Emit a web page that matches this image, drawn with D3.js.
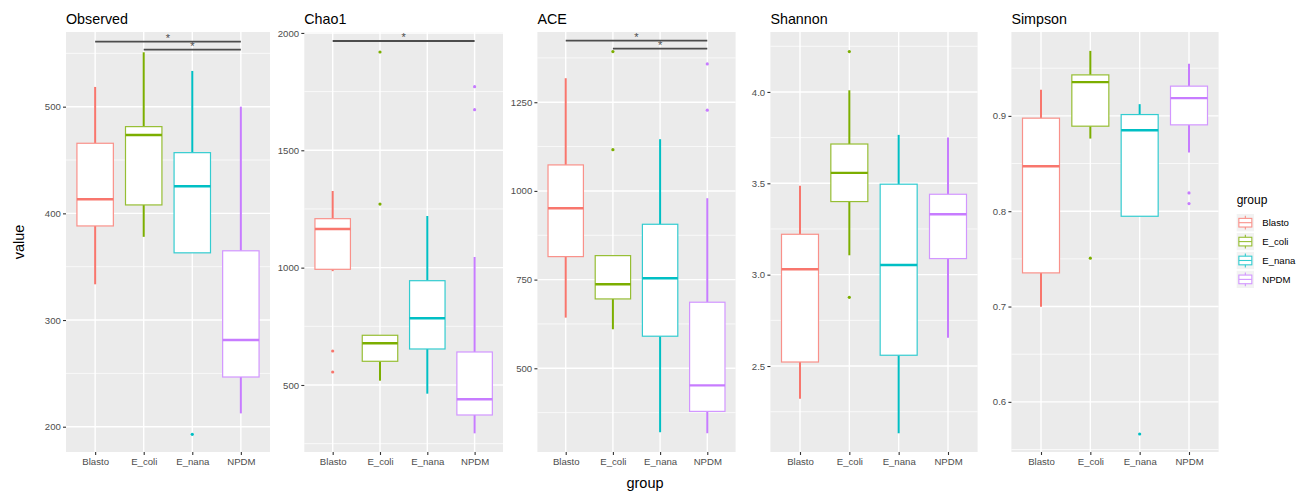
<!DOCTYPE html>
<html>
<head>
<meta charset="utf-8">
<script src="https://cdn.jsdelivr.net/npm/d3@7"></script>
<style>
  body { margin: 0; background: #fff; }
  svg { font-family: "Liberation Sans", Arial, Helvetica, sans-serif; }
</style>
</head>
<body>
<div id="chart"></div>
<script>
// groups + ggplot default hue colours
const groups = ["Blasto", "E_coli", "E_nana", "NPDM"];
const groupColors = ["#F8766D", "#7CAE00", "#00BFC4", "#C77CFF"];
const titles = ["Observed", "Chao1", "ACE", "Shannon", "Simpson"];

// box stats per group: [lower whisker, Q1, median, Q3, upper whisker]
const observedStats = [[333.5, 388.2, 413.2, 465.7, 518.5], [378, 407.9, 473.5, 481.3, 551], [363, 363, 425.4, 456.9, 533.5], [212.5, 246.6, 281.3, 364.9, 500]];
const observedOutliers = [[], [], [192.9], []];
const observedTicks = [200, 300, 400, 500];
const observedSig = [["Blasto", "NPDM", 561], ["E_coli", "NPDM", 553.5]];

const chao1Stats = [[985, 992.9, 1164.7, 1208.6, 1326.6], [518.3, 601, 677.7, 711.8, 711.8], [463, 653.4, 784.2, 944.4, 1220], [294, 372.2, 439, 640.6, 1045.4]];
const chao1Outliers = [[644.9, 555.4], [1918.8, 1271], [], [1771, 1673]];
const chao1Ticks = [500, 1000, 1500, 2000];
const chao1Sig = [["Blasto", "NPDM", 1965.7]];

const aceStats = [[642.8, 814.8, 951.2, 1073.3, 1317.7], [610, 695.5, 736.9, 817.6, 817.6], [319.7, 590.4, 753.9, 906, 1145.8], [316.9, 378.5, 451.7, 686.2, 979.4]];
const aceOutliers = [[], [1392.7, 1116.4], [], [1358, 1227.5]];
const aceTicks = [500, 750, 1000, 1250];
const aceSig = [["Blasto", "NPDM", 1423.7], ["E_coli", "NPDM", 1401.2]];

const shannonStats = [[2.321, 2.522, 3.030, 3.221, 3.486], [3.106, 3.400, 3.557, 3.715, 4.009], [2.132, 2.559, 3.053, 3.495, 3.765], [2.655, 3.088, 3.331, 3.440, 3.750]];
const shannonOutliers = [[], [4.221, 2.876], [], []];
const shannonTicks = [2.5, 3.0, 3.5, 4.0];
const shannonSig = [];

const simpsonStats = [[0.6999, 0.7353, 0.8472, 0.8976, 0.9273], [0.8762, 0.8892, 0.9354, 0.943, 0.9682], [0.7947, 0.7947, 0.885, 0.9014, 0.9123], [0.8615, 0.8906, 0.9186, 0.9312, 0.9546]];
const simpsonOutliers = [[], [0.7507], [0.5663], [0.8192, 0.808]];
const simpsonTicks = [0.6, 0.7, 0.8, 0.9];
const simpsonSig = [];

// y limits of each panel (ggplot expanded range)
const yDomains = [[176.3, 570], [214.5, 2004], [264, 1448], [2.0295, 4.328], [0.5474, 0.988]];

var panels = [
  { stats: observedStats, out: observedOutliers, ticks: observedTicks, sig: observedSig, fmt: d3.format("d") },
  { stats: chao1Stats, out: chao1Outliers, ticks: chao1Ticks, sig: chao1Sig, fmt: d3.format("d") },
  { stats: aceStats, out: aceOutliers, ticks: aceTicks, sig: aceSig, fmt: d3.format("d") },
  { stats: shannonStats, out: shannonOutliers, ticks: shannonTicks, sig: shannonSig, fmt: d3.format(".1f") },
  { stats: simpsonStats, out: simpsonOutliers, ticks: simpsonTicks, sig: simpsonSig, fmt: d3.format(".1f") }
];

// layout
var width = 1296, height = 494;
var plotTop = 32, plotBottom = 452;
var panelX = [[66, 270], [304.3, 503], [537.4, 735.6], [770.4, 977.6], [1011.4, 1218.6]];
var tickFont = "9.6px";

var svg = d3.select("#chart").append("svg").attr("width", width).attr("height", height);

function lighten(c) { return d3.interpolateRgb(c, "#fff")(0.2); }

panels.forEach(function (p, i) {
  var x = d3.scalePoint().domain(groups).range(panelX[i]).padding(0.6);
  var y = d3.scaleLinear().domain(yDomains[i]).range([plotBottom, plotTop]);
  var step = x.step(), bw = step * 0.75;
  var g = svg.append("g");

  // background + grid
  g.append("rect").attr("x", panelX[i][0]).attr("y", plotTop)
    .attr("width", panelX[i][1] - panelX[i][0]).attr("height", plotBottom - plotTop).attr("fill", "#EBEBEB");

  var t = p.ticks, d = t[1] - t[0];
  var minor = [t[0] - d / 2].concat(t.map(v => v + d / 2)).filter(v => v >= yDomains[i][0] && v <= yDomains[i][1]);
  g.selectAll(".minor").data(minor).enter().append("line")
    .attr("x1", panelX[i][0]).attr("x2", panelX[i][1]).attr("y1", y).attr("y2", y)
    .attr("stroke", "#fff").attr("stroke-width", 0.71);
  g.selectAll(".major").data(t).enter().append("line")
    .attr("x1", panelX[i][0]).attr("x2", panelX[i][1]).attr("y1", y).attr("y2", y)
    .attr("stroke", "#fff").attr("stroke-width", 1.42);
  g.selectAll(".vmajor").data(groups).enter().append("line")
    .attr("x1", x).attr("x2", x).attr("y1", plotTop).attr("y2", plotBottom)
    .attr("stroke", "#fff").attr("stroke-width", 1.42);

  // axes
  var ya = g.append("g").attr("transform", "translate(" + panelX[i][0] + ",0)")
    .call(d3.axisLeft(y).tickValues(t).tickFormat(p.fmt).tickSize(3).tickPadding(2.2));
  var xa = g.append("g").attr("transform", "translate(0," + plotBottom + ")")
    .call(d3.axisBottom(x).tickSize(3).tickPadding(3.3));
  [ya, xa].forEach(function (a) {
    a.select(".domain").remove();
    a.selectAll("line").attr("stroke", "#333").attr("stroke-width", 1.1);
    a.selectAll("text").attr("fill", "#4D4D4D").style("font-size", tickFont);
    a.attr("font-family", null).attr("font-size", null);
  });

  // boxes
  var boxes = g.selectAll(".box").data(p.stats).enter().append("g");
  boxes.append("line").attr("x1", (s, j) => x(groups[j])).attr("x2", (s, j) => x(groups[j]))
    .attr("y1", s => y(s[3])).attr("y2", s => y(s[4]))
    .attr("stroke", (s, j) => groupColors[j]).attr("stroke-width", 2);
  boxes.append("line").attr("x1", (s, j) => x(groups[j])).attr("x2", (s, j) => x(groups[j]))
    .attr("y1", s => y(s[1])).attr("y2", s => y(s[0]))
    .attr("stroke", (s, j) => groupColors[j]).attr("stroke-width", 2);
  boxes.append("rect").attr("x", (s, j) => x(groups[j]) - bw / 2).attr("width", bw)
    .attr("y", s => y(s[3])).attr("height", s => y(s[1]) - y(s[3]))
    .attr("fill", "#fff").attr("stroke", (s, j) => lighten(groupColors[j])).attr("stroke-width", 1.2);
  boxes.append("line").attr("x1", (s, j) => x(groups[j]) - bw / 2).attr("x2", (s, j) => x(groups[j]) + bw / 2)
    .attr("y1", s => y(s[2])).attr("y2", s => y(s[2]))
    .attr("stroke", (s, j) => groupColors[j]).attr("stroke-width", 2.4);

  // outliers
  p.out.forEach(function (vals, j) {
    g.selectAll(null).data(vals).enter().append("circle")
      .attr("cx", x(groups[j])).attr("cy", y).attr("r", 1.6).attr("fill", groupColors[j]);
  });

  // significance brackets
  p.sig.forEach(function (s) {
    g.append("line").attr("x1", x(s[0])).attr("x2", x(s[1])).attr("y1", y(s[2])).attr("y2", y(s[2]))
      .attr("stroke", "#4D4D4D").attr("stroke-width", 1.9);
    g.append("text").attr("x", (x(s[0]) + x(s[1])) / 2).attr("y", y(s[2]) + 0.5)
      .attr("text-anchor", "middle").attr("fill", "#4D4D4D").style("font-size", "11px").text("*");
  });

  // panel title
  svg.append("text").attr("x", panelX[i][0]).attr("y", 23.5).style("font-size", "14.3px")
    .attr("fill", "#000").text(titles[i]);
});

// axis titles
svg.append("text").attr("transform", "translate(23.8,242) rotate(-90)").attr("text-anchor", "middle")
  .attr("fill", "#000").style("font-size", "14.5px").text("value");
svg.append("text").attr("x", 645).attr("y", 488).attr("text-anchor", "middle")
  .attr("fill", "#000").style("font-size", "14.5px").text("group");

// legend
var lg = svg.append("g").attr("transform", "translate(1236.7,0)");
lg.append("text").attr("x", 0).attr("y", 204).attr("fill", "#000").style("font-size", "12px").text("group");
var k = 17.3;
var keys = lg.selectAll(".key").data(groups).enter().append("g")
  .attr("transform", (d, j) => "translate(0," + (222.7 + j * 18.9 - k / 2) + ")");
keys.append("rect").attr("width", k).attr("height", k).attr("fill", "#F2F2F2");
keys.append("line").attr("x1", k / 2).attr("x2", k / 2).attr("y1", k * 0.1).attr("y2", k * 0.9)
  .attr("stroke", (d, j) => lighten(groupColors[j])).attr("stroke-width", 1.1);
keys.append("rect").attr("x", k * 0.125).attr("y", k * 0.25).attr("width", k * 0.75).attr("height", k * 0.5)
  .attr("fill", "#fff").attr("stroke", (d, j) => lighten(groupColors[j])).attr("stroke-width", 1.1);
keys.append("line").attr("x1", k * 0.125).attr("x2", k * 0.875).attr("y1", k / 2).attr("y2", k / 2)
  .attr("stroke", (d, j) => lighten(groupColors[j])).attr("stroke-width", 1.1);
keys.append("text").attr("x", 25.6).attr("y", k / 2).attr("dy", "0.35em")
  .attr("fill", "#000").style("font-size", tickFont).text(d => d);
</script>
</body>
</html>
